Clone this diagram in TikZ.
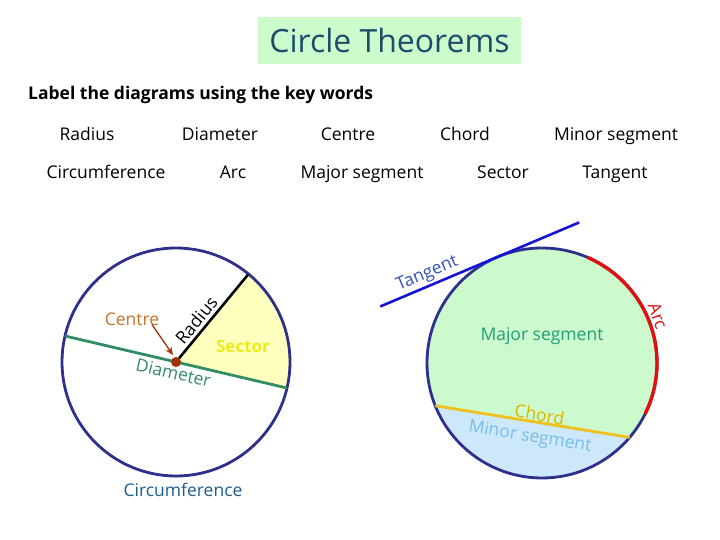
\documentclass[tikz,border=0pt]{standalone}
\usepackage{fontspec}
\setmainfont{Open Sans}
\usetikzlibrary{arrows.meta,calc}
\definecolor{navy}{RGB}{46,49,140}
\definecolor{diag}{RGB}{50,140,100}
\definecolor{dotc}{RGB}{160,50,10}
\definecolor{centc}{RGB}{200,116,43}
\definecolor{secfill}{RGB}{255,255,190}
\definecolor{sectxt}{RGB}{235,235,30}
\definecolor{circtxt}{RGB}{26,95,138}
\definecolor{tanl}{RGB}{20,20,210}
\definecolor{tant}{RGB}{50,80,190}
\definecolor{arcc}{RGB}{225,15,15}
\definecolor{majfill}{RGB}{204,250,204}
\definecolor{majtxt}{RGB}{30,160,120}
\definecolor{chordc}{RGB}{240,192,30}
\definecolor{chordt}{RGB}{225,180,0}
\definecolor{minfill}{RGB}{204,232,250}
\definecolor{mintxt}{RGB}{120,190,232}
\definecolor{titlefill}{RGB}{204,252,204}
\definecolor{titletxt}{RGB}{30,77,107}
\tikzset{
  keyword/.style={font=\fontsize{17.5}{20}\selectfont, text=black, inner sep=0pt, anchor=base},
  lbl/.style={font=\fontsize{17.5}{20}\selectfont, inner sep=1pt},
}
\begin{document}
\begin{tikzpicture}[x=1pt,y=1pt]
\useasboundingbox (0,0) rectangle (720,540);
% title
\node[fill=titlefill, minimum width=263pt, minimum height=47pt, inner sep=0pt,
  text=titletxt, font=\fontsize{32}{36}\selectfont] (title) at (389.5,499.5) {Circle Theorems};
\node[anchor=base west, font=\bfseries\fontsize{17.5}{20}\selectfont, inner sep=0pt] (sub) at (28,440) {Label the diagrams using the key words};
% key words
\node[keyword] (k1) at (87,399) {Radius};
\node[keyword] (k2) at (220,399) {Diameter};
\node[keyword] (k3) at (348,399) {Centre};
\node[keyword] (k4) at (465,399) {Chord};
\node[keyword] (k5) at (616,399) {Minor segment};
\node[keyword] (k6) at (106,361) {Circumference};
\node[keyword] (k7) at (233,361) {Arc};
\node[keyword] (k8) at (362,361) {Major segment};
\node[keyword] (k9) at (503,361) {Sector};
\node[keyword] (k10) at (615,361) {Tangent};
% left circle
\coordinate (c1) at (176,178);
\coordinate (rend) at ($(c1)+(50.5:113)$);
\coordinate (dl) at ($(c1)+(166.8:114)$);
\coordinate (dr) at ($(c1)+(-13.2:114)$);
\fill[secfill] (c1) -- (dr) arc[start angle=-13.2, end angle=50.5, radius=114] -- cycle;
\draw[navy, line width=2.8pt] (c1) circle[radius=114];
\draw[diag, line width=2.8pt] (dl) -- (dr) node[pos=0.5, sloped, below=2pt, lbl, text=diag] (dlab) {Diameter};
\draw[black, line width=2.6pt] (c1) -- (rend) node[pos=0.4, sloped, above=2pt, lbl, text=black] (rlab) {Radius};
\fill[dotc] (c1) circle[radius=5];
\node[lbl, text=centc] (cent) at (132,221) {Centre};
\draw[dotc, line width=1.3pt, -{Stealth[length=8pt,width=7pt]}] ($(cent.south)+(20,2)$) -- ($(c1)+(-3,7)$);
\node[lbl, text=sectxt, font=\bfseries\fontsize{17}{20}\selectfont] (sec) at (243,194) {Sector};
\node[lbl, text=circtxt] (circ) at (183,50) {Circumference};
% right circle
\coordinate (c2) at (542,177);
\coordinate (chl) at ($(c2)+(201.8:115)$);
\coordinate (chr) at ($(c2)+(-40.3:115)$);
\fill[minfill] (c2) circle[radius=115];
\fill[majfill] (chr) arc[start angle=-40.3, end angle=201.8, radius=115] -- cycle;
\draw[navy, line width=2.8pt] (c2) circle[radius=115];
\draw[arcc, line width=3.4pt] ($(c2)+(66.8:115)$) arc[start angle=66.8, end angle=-26.3, radius=115];
\draw[chordc, line width=2.8pt] (chl) -- (chr)
  node[pos=0.53, sloped, above=-1pt, lbl, text=chordt] (chlab) {Chord}
  node[pos=0.5, sloped, below=5pt, lbl, text=mintxt] (minlab) {Minor segment};
\coordinate (tp) at ($(c2)+(112.9:115)$);
\coordinate (t1) at ($(tp)+(202.9:127)$);
\coordinate (t2) at ($(tp)+(22.9:89)$);
\draw[tanl, line width=2.6pt] (t1) -- (t2) node[pos=0.26, sloped, above=1pt, lbl, text=tant] (tlab) {Tangent};
\node[lbl, text=arcc, rotate=-70] (alab) at ($(c2)+(22:125)$) {Arc};
\node[lbl, text=majtxt] (majlab) at (542,204) {Major segment};
\end{tikzpicture}
\end{document}
